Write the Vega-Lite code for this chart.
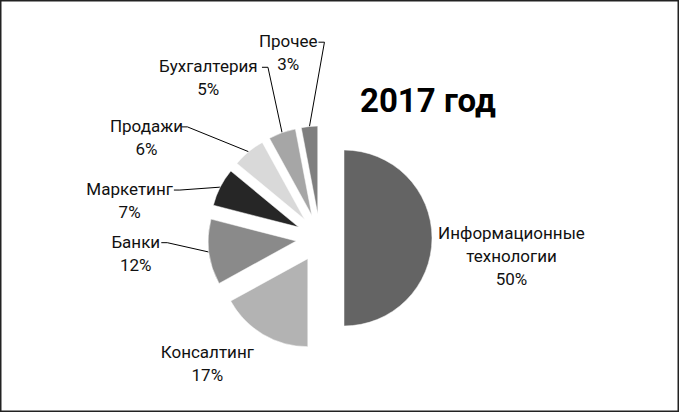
{
  "$schema": "https://vega.github.io/schema/vega-lite/v6.json",
  "width": 679,
  "height": 412,
  "autosize": {"type": "none"},
  "padding": 0,
  "background": "#ffffff",
  "config": {
    "view": {"stroke": "#222222", "strokeWidth": 3},
    "text": {"font": "Roboto"}
  },
  "title": {
    "text": "2017 год",
    "font": "Roboto",
    "fontSize": 33,
    "fontWeight": "bold",
    "color": "#000000",
    "anchor": "start",
    "frame": "group",
    "offset": 0,
    "dx": 360,
    "dy": 145,
    "baseline": "alphabetic"
  },
  "data": {
    "values": [
      {"idx": 1, "name": "Информационные\nтехнологии", "value": 50},
      {"idx": 2, "name": "Консалтинг", "value": 17},
      {"idx": 3, "name": "Банки", "value": 12},
      {"idx": 4, "name": "Маркетинг", "value": 7},
      {"idx": 5, "name": "Продажи", "value": 6},
      {"idx": 6, "name": "Бухгалтерия", "value": 5},
      {"idx": 7, "name": "Прочее", "value": 3}
    ]
  },
  "transform": [
    {"window": [{"op": "sum", "field": "value", "as": "v1"}], "sort": [{"field": "idx"}], "frame": [null, 0]},
    {"calculate": "datum.v1 - datum.value", "as": "v0"},
    {"calculate": "(datum.v0 + datum.v1) * PI / 100", "as": "mid"},
    {"calculate": "datum.mid + 0.3 * sin(2 * datum.mid)", "as": "thl"},
    {"calculate": "24 * sin(datum.mid)", "as": "ax"},
    {"calculate": "24 * cos(datum.mid)", "as": "ay"},
    {"calculate": "2.5 + 189 * sin(datum.thl) + 40 * sin(datum.thl) * cos(datum.thl)", "as": "lx"},
    {"calculate": "-8 + (cos(datum.thl) < 0 ? 170 : 194) * cos(datum.thl) + 12", "as": "ly"},
    {"calculate": "112 * sin(datum.mid)", "as": "sx1"},
    {"calculate": "112 * cos(datum.mid)", "as": "sy1"},
    {"calculate": "datum.lx + 4.7 * length(datum.name) + 2", "as": "ex"},
    {"calculate": "datum.ex + 6", "as": "hx"},
    {"calculate": "datum.name + '\\n' + datum.value + '%'", "as": "label"}
  ],
  "layer": [
    {
      "transform": [{"filter": "datum.value < 15"}],
      "mark": {"type": "rule", "color": "#000000", "strokeWidth": 1},
      "encoding": {
        "x": {"field": "hx", "type": "quantitative", "scale": {"domain": [-320, 359], "zero": false, "nice": false}, "axis": null},
        "y": {"field": "ly", "type": "quantitative", "scale": {"domain": [-174, 238], "zero": false, "nice": false}, "axis": null},
        "x2": {"field": "sx1"},
        "y2": {"field": "sy1"}
      }
    },
    {
      "transform": [{"filter": "datum.value < 15"}],
      "mark": {"type": "rule", "color": "#000000", "strokeWidth": 1},
      "encoding": {
        "x": {"field": "ex", "type": "quantitative", "scale": {"domain": [-320, 359], "zero": false, "nice": false}, "axis": null},
        "y": {"field": "ly", "type": "quantitative", "scale": {"domain": [-174, 238], "zero": false, "nice": false}, "axis": null},
        "x2": {"field": "hx"}
      }
    },
    {
      "mark": {"type": "arc", "radius": 88, "stroke": "#ffffff", "strokeWidth": 0.5},
      "encoding": {
        "x": {"field": "ax", "type": "quantitative", "scale": {"domain": [-320, 359], "zero": false, "nice": false}, "axis": null},
        "y": {"field": "ay", "type": "quantitative", "scale": {"domain": [-174, 238], "zero": false, "nice": false}, "axis": null},
        "theta": {"field": "v0", "type": "quantitative", "stack": null, "scale": {"domain": [0, 100], "range": [0, 6.283185307]}},
        "theta2": {"field": "v1"},
        "color": {
          "field": "idx",
          "type": "nominal",
          "scale": {
            "domain": [1, 2, 3, 4, 5, 6, 7],
            "range": ["#646464", "#b3b3b3", "#8a8a8a", "#262626", "#d9d9d9", "#a6a6a6", "#7f7f7f"]
          },
          "legend": null
        }
      }
    },
    {
      "mark": {"type": "text", "lineBreak": "\n", "fontSize": 17, "lineHeight": 23, "align": "center", "baseline": "middle", "color": "#111111"},
      "encoding": {
        "x": {"field": "lx", "type": "quantitative", "scale": {"domain": [-320, 359], "zero": false, "nice": false}, "axis": null},
        "y": {"field": "ly", "type": "quantitative", "scale": {"domain": [-174, 238], "zero": false, "nice": false}, "axis": null},
        "text": {"field": "label"}
      }
    }
  ]
}
